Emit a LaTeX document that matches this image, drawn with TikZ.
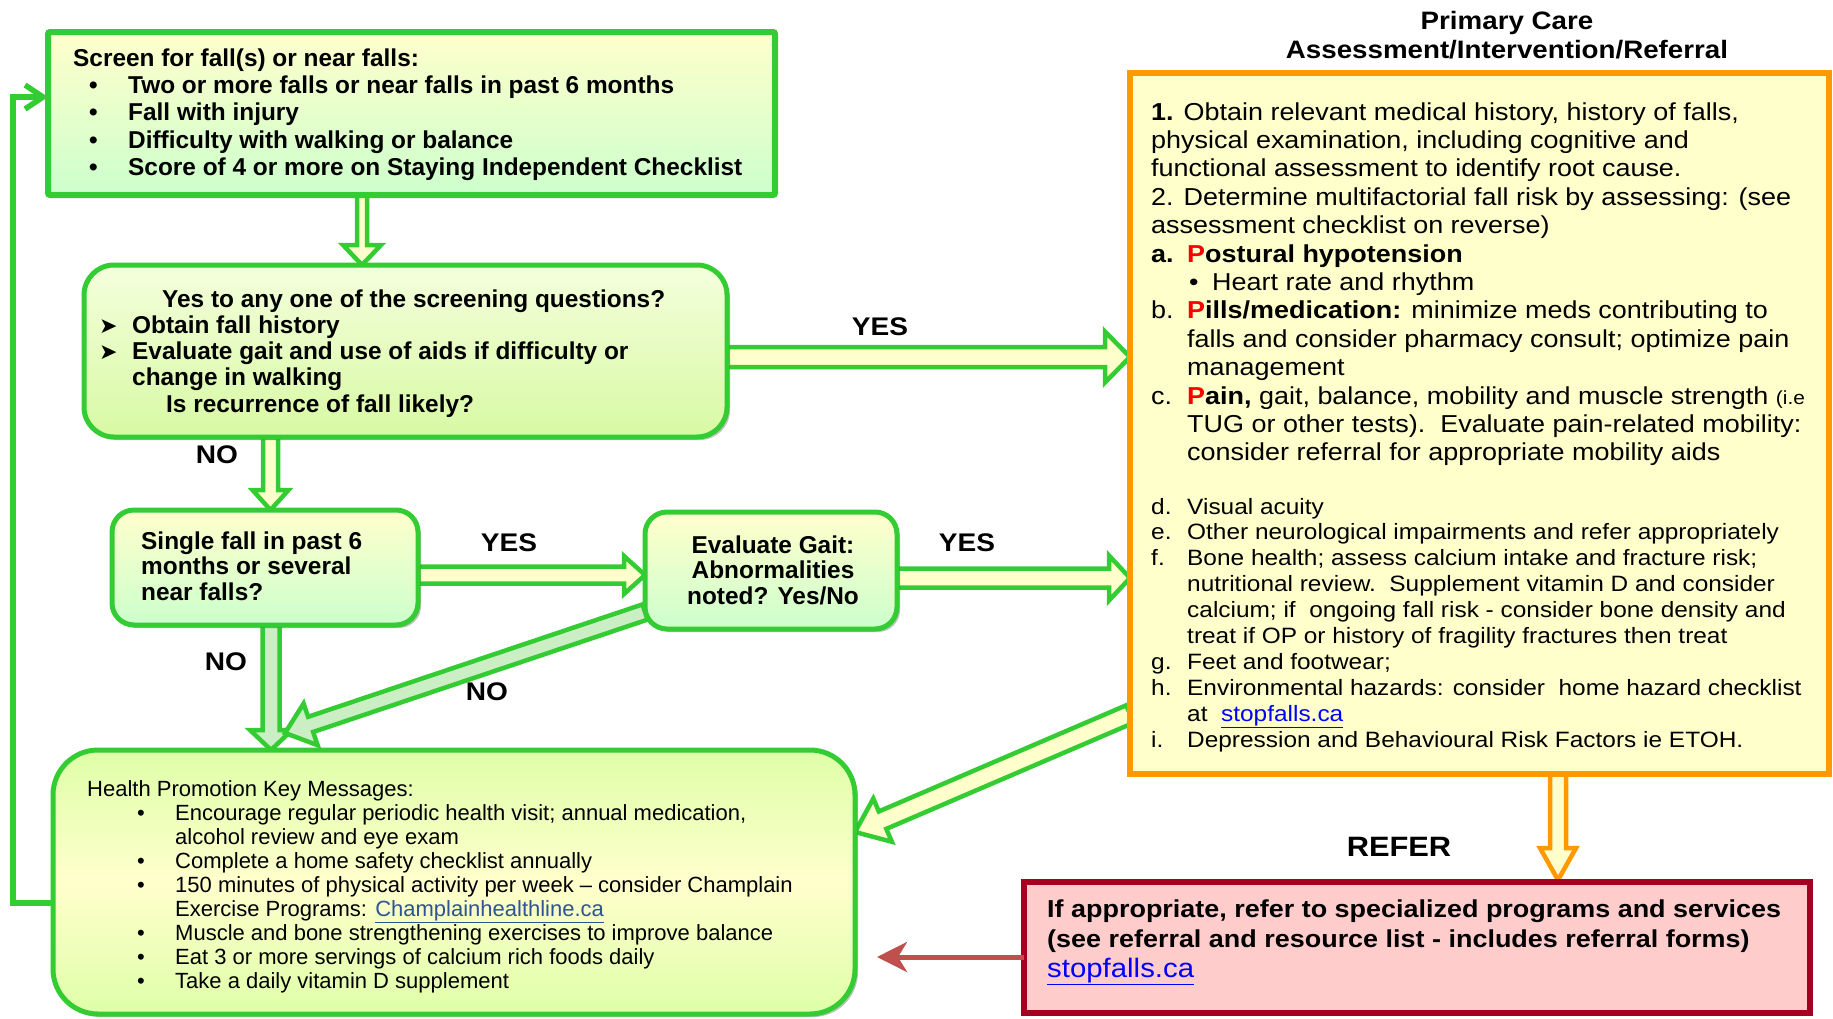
\documentclass[tikz,border=0pt]{standalone}
\usepackage{fontspec}
\setmainfont{Liberation Sans}
\newfontfamily\wf[FakeStretch=1.1]{Liberation Sans}
\newfontfamily\dv{DejaVu Sans}
\usetikzlibrary{calc,arrows.meta,shadows}
\pgfdeclarelayer{bg}
\pgfsetlayers{bg,main}
\definecolor{gr}{RGB}{51,204,51}
\definecolor{lyel}{RGB}{255,255,204}
\definecolor{lgrn}{RGB}{204,255,204}
\definecolor{org}{RGB}{255,153,0}
\definecolor{dred}{RGB}{165,0,33}
\definecolor{pinkf}{RGB}{255,204,204}
\definecolor{redarr}{RGB}{192,80,77}
\definecolor{pred}{RGB}{255,0,0}
\definecolor{lnk}{RGB}{0,0,255}
\definecolor{lnkb}{RGB}{46,84,150}
\definecolor{agrn}{RGB}{204,238,196}
\definecolor{btop}{RGB}{244,255,220}
\definecolor{bbot}{RGB}{216,249,164}
\definecolor{bedge}{RGB}{222,255,168}
\newcommand\lbl[1]{\makebox[36pt][l]{#1}}
\newcommand\ind{\hspace*{36pt}}
\newcommand\rP[1]{\textcolor{pred}{#1}}
\newcommand\lk[1]{\textcolor{lnk}{\underline{#1}}}
% fat hollow arrow: [style]{from}{to}{half shaft}{half head}{head length}
\newcommand\fatarrow[6][]{%
  \coordinate (fa-s) at (#2);
  \coordinate (fa-e) at (#3);
  \path let \p1=($(fa-e)-(fa-s)$) in \pgfextra{%
     \pgfmathparse{veclen(\x1/100,\y1/100)*100}\xdef\FAlen{\pgfmathresult}%
     \pgfmathparse{atan2(\y1,\x1)}\xdef\FAang{\pgfmathresult}};
  \begin{pgfonlayer}{bg}
  \begin{scope}[shift={(fa-s)}, rotate=\FAang]
    \draw[fatarr,#1] (0,#4) -- ({\FAlen-#6},#4) -- ({\FAlen-#6},#5) -- (\FAlen,0)
      -- ({\FAlen-#6},-#5) -- ({\FAlen-#6},-#4) -- (0,-#4) -- cycle;
  \end{scope}
  \end{pgfonlayer}}
\tikzset{
  fatarr/.style={draw=gr, fill=lyel, line width=4.5pt, line join=miter},
  box/.style={draw=gr, line width=5pt, inner sep=0pt, outer sep=0pt, anchor=north west},
  shad/.style={drop shadow={shadow xshift=3pt, shadow yshift=-3pt, fill=black, opacity=0.25}},
  txt/.style={inner sep=0pt, anchor=base west},
  lab/.style={inner sep=0pt, font=\wf\bfseries\fontsize{25.5}{26}\selectfont},
}
\begin{document}
\begin{tikzpicture}[x=1pt, y=-1pt]
\useasboundingbox (0,0) rectangle (1833,1018);

% boxes
\node[box, line width=6pt, rounded corners=2pt, top color=lyel, bottom color=lgrn,
  minimum width=727pt, minimum height=163pt] (b1) at (48,32) {};
\node[box, shad, rounded corners=30pt, top color=btop, bottom color=bbot,
  minimum width=643pt, minimum height=172pt] (b2) at (84,265) {};
\node[box, shad, rounded corners=22pt, top color=lyel, bottom color=lgrn,
  minimum width=306pt, minimum height=115pt] (b3) at (112,510) {};
\node[box, shad, rounded corners=22pt, top color=lyel, bottom color=lgrn,
  minimum width=252pt, minimum height=117pt] (b4) at (645,512) {};
\node[box, shad, rounded corners=45pt, top color=bedge, bottom color=bedge, middle color=lyel,
  minimum width=802pt, minimum height=264pt] (b5) at (53,750) {};
\node[box, draw=org, fill=lyel, line width=5.5pt, minimum width=699pt, minimum height=701pt] (ob) at (1130,73) {};
\node[box, draw=dred, line width=6pt, fill=pinkf, minimum width=786pt, minimum height=131pt] (rb) at (1024,882) {};

% texts
\node[txt] (t1) at (73,66) {\parbox[t]{700pt}{\bfseries\fontsize{24.4}{27.4}\selectfont
Screen for fall(s) or near falls:\\
\hspace*{16pt}\makebox[39pt][l]{•}Two or more falls or near falls in past 6 months\\
\hspace*{16pt}\makebox[39pt][l]{•}Fall with injury\\
\hspace*{16pt}\makebox[39pt][l]{•}Difficulty with walking or balance\\
\hspace*{16pt}\makebox[39pt][l]{•}Score of 4 or more on Staying Independent Checklist}};

\node[txt] (t2) at (99,307) {\parbox[t]{620pt}{\bfseries\fontsize{24.4}{26.3}\selectfont
\hspace*{63pt}Yes to any one of the screening questions?\\
\makebox[33pt][l]{\dv\fontsize{22}{22}\selectfont ➤}Obtain fall history\\
\makebox[33pt][l]{\dv\fontsize{22}{22}\selectfont ➤}Evaluate gait and use of aids if difficulty or\\
\hspace*{33pt}change in walking\\
\hspace*{67pt}Is recurrence of fall likely?}};

\node[txt] (t3) at (141,549) {\parbox[t]{270pt}{\bfseries\fontsize{24.4}{25.5}\selectfont
Single fall in past 6\\months or several\\near falls?}};

\node[inner sep=0pt, anchor=base] (t4) at (773,553) {\parbox[t]{240pt}{\centering\bfseries\fontsize{24.4}{25.8}\selectfont
Evaluate Gait:\\Abnormalities\\noted? Yes/No}};

\node[txt] (t5) at (87,796) {\parbox[t]{760pt}{\fontsize{22}{24}\selectfont
Health Promotion Key Messages:\\
\hspace*{50pt}\makebox[38pt][l]{•}Encourage regular periodic health visit; annual medication,\\
\hspace*{88pt}alcohol review and eye exam\\
\hspace*{50pt}\makebox[38pt][l]{•}Complete a home safety checklist annually\\
\hspace*{50pt}\makebox[38pt][l]{•}150 minutes of physical activity per week – consider Champlain\\
\hspace*{88pt}Exercise Programs: \textcolor{lnkb}{\underline{Champlainhealthline.ca}}\\
\hspace*{50pt}\makebox[38pt][l]{•}Muscle and bone strengthening exercises to improve balance\\
\hspace*{50pt}\makebox[38pt][l]{•}Eat 3 or more servings of calcium rich foods daily\\
\hspace*{50pt}\makebox[38pt][l]{•}Take a daily vitamin D supplement}};

\node[inner sep=0pt, anchor=base] (hd) at (1507,29) {\parbox[t]{600pt}{\centering\wf\bfseries\fontsize{25.2}{29}\selectfont
Primary Care\\Assessment/Intervention/Referral}};

\node[txt] (o1) at (1151,120) {\parbox[t]{675pt}{\wf\fontsize{24.5}{28.4}\selectfont
\textbf{1.} Obtain relevant medical history, history of falls,\\
physical examination, including cognitive and\\
functional assessment to identify root cause.\\
2. Determine multifactorial fall risk by assessing: (see\\
assessment checklist on reverse)\\
\lbl{\textbf{a.}}\textbf{\rP{P}ostural hypotension}\\
\hspace*{38pt}\makebox[23pt][l]{•}Heart rate and rhythm\\
\lbl{b.}\textbf{\rP{P}ills/medication:} minimize meds contributing to\\
\ind falls and consider pharmacy consult; optimize pain\\
\ind management\\
\lbl{c.}\textbf{\rP{P}ain,} gait, balance, mobility and muscle strength {\fontsize{19}{20}\selectfont (i.e}\\
\ind TUG or other tests).\ \ Evaluate pain-related mobility:\\
\ind consider referral for appropriate mobility aids}};

\node[txt] (o2) at (1151,514) {\parbox[t]{675pt}{\wf\fontsize{22.2}{25.9}\selectfont
\lbl{d.}Visual acuity\\
\lbl{e.}Other neurological impairments and refer appropriately\\
\lbl{f.}Bone health; assess calcium intake and fracture risk;\\
\ind nutritional review.\ \ Supplement vitamin D and consider\\
\ind calcium; if\ \ ongoing fall risk - consider bone density and\\
\ind treat if OP or history of fragility fractures then treat\\
\lbl{g.}Feet and footwear;\\
\lbl{h.}Environmental hazards: consider\ \ home hazard checklist\\
\ind at\ \ \lk{stopfalls.ca}\\
\lbl{i.}Depression and Behavioural Risk Factors ie ETOH.}};

\node[txt] (r1) at (1047,917) {\parbox[t]{760pt}{\wf\bfseries\fontsize{24.5}{30}\selectfont
If appropriate, refer to specialized programs and services\\
(see referral and resource list - includes referral forms)\\
{\mdseries\fontsize{26.7}{30}\selectfont\lk{stopfalls.ca}}}};

% labels
\node[lab] (y1) at (880,327) {YES};
\node[lab] (y2) at (509,543) {YES};
\node[lab] (y3) at (967,543) {YES};
\node[lab] (n1) at (217,455) {NO};
\node[lab] (n2) at (226,662) {NO};
\node[lab] (n3) at (487,692) {NO};
\node[inner sep=0pt, font=\wf\bfseries\fontsize{28}{30}\selectfont] (rf) at (1399,847) {REFER};

% fat arrows
\fatarrow{$(b1.south)+(-49.5,0)$}{$(b2.north)+(-43.5,0)$}{5}{19}{20}
\fatarrow{$(b2.east)+(0,6)$}{$(ob.west)+(0,-66.5)$}{10}{25.5}{25}
\fatarrow{$(b2.south)+(-135,0)$}{$(b3.north)+(5.5,0)$}{7.5}{18}{20}
\fatarrow{$(b3.east)+(0,7.5)$}{$(b4.west)+(0,4.5)$}{8.5}{19}{21}
\fatarrow{$(b4.east)+(0,7.5)$}{$(ob.west)+(0,154.5)$}{9.5}{22.5}{21}
\fatarrow[fill=agrn]{$(b3.south)+(6,0)$}{$(b5.north)+(-183,0)$}{8.5}{21}{20}
\fatarrow[fill=agrn]{$(b4.west)+(0,41.5)$}{$(b5.north)+(-169,-17)$}{8}{22}{27}
\fatarrow{$(ob.west)+(0,290.5)$}{$(b5.east)+(0,-50)$}{9.5}{23.5}{30}
\fatarrow[draw=org]{$(ob.south)+(78.5,0)$}{$(rb.north)+(141,-2)$}{8}{18}{32}

% red arrow
\draw[redarr, line width=5pt, -{Stealth[length=30pt,width=30pt,inset=9pt]}]
  ($(rb.west)+(0,9.5)$) -- ($(b5.east)+(22,75)$);

% loop back
\begin{pgfonlayer}{bg}
\draw[gr, line width=5.5pt, -{Straight Barb[length=18pt,width=24pt]}]
  ($(b5.west)+(0,21)$) -- ++(-40,0) |- ($(b1.west)+(0,-16.5)$);
\end{pgfonlayer}
\end{tikzpicture}
\end{document}
